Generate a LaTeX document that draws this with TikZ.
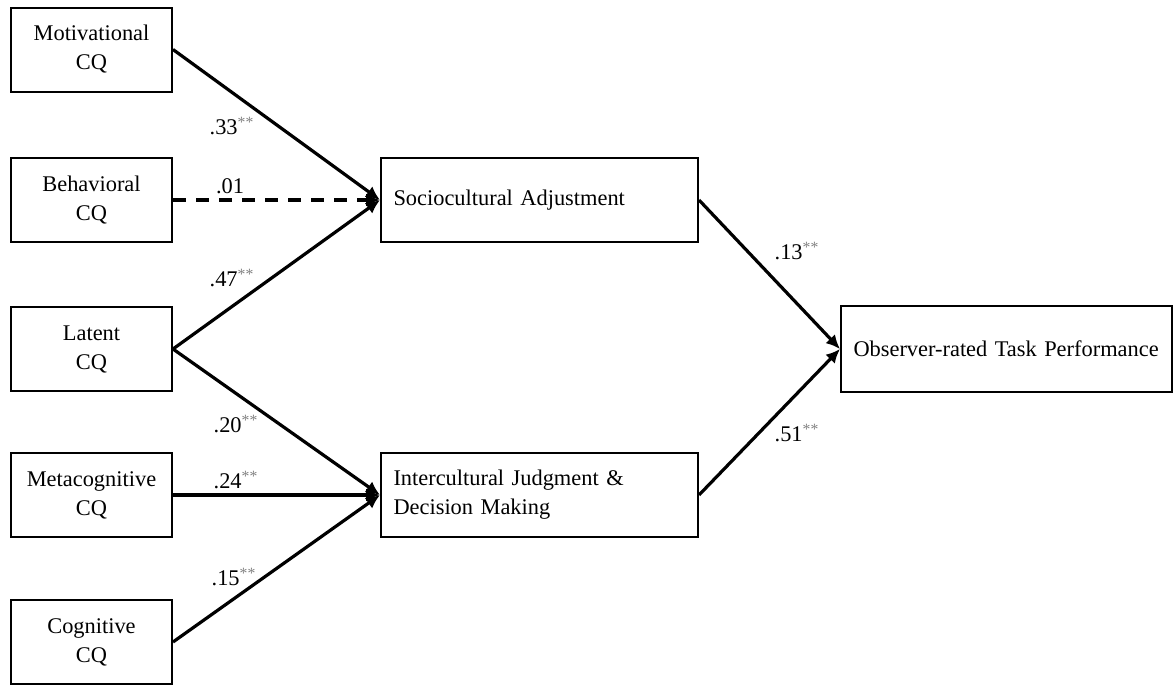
\documentclass[tikz,border=0pt]{standalone}
\usepackage{fontspec}
\setmainfont{Liberation Serif}
\usetikzlibrary{arrows.meta}
\newcommand{\sig}[1]{#1\textsuperscript{\textcolor{gray}{**}}}

\begin{document}
\begin{tikzpicture}[x=0.5pt,y=-0.5pt,
		font=\fontsize{11.2}{14.5}\selectfont,
		cqbox/.style={draw,line width=1pt,minimum width=80.5pt,minimum height=42pt,align=center,inner sep=0pt},
		medbox/.style={draw,line width=1pt,minimum width=158.5pt,minimum height=42pt,text width=146pt,align=left,inner sep=6pt},
		outbox/.style={draw,line width=1pt,minimum width=165.5pt,minimum height=43pt,text width=153pt,align=left,inner sep=6pt},
		path/.style={line width=1.6pt,-{Latex[length=7pt,width=6.5pt]}},
		coef/.style={inner sep=0pt}]
		\useasboundingbox (0,0) rectangle (1175,685);
		% predictors
		\node[cqbox] (mot) at (91.5,49.5) {Motivational\\CQ};
		\node[cqbox] (beh) at (91.5,200) {Behavioral\\CQ};
		\node[cqbox] (lat) at (91.5,349) {Latent\\CQ};
		\node[cqbox] (meta) at (91.5,495) {Metacognitive\\CQ};
		\node[cqbox] (cog) at (91.5,642) {Cognitive\\CQ};
		% mediators and outcome
		\node[medbox] (soc) at (539.5,200) {Sociocultural Adjustment};
		\node[medbox] (icj) at (539.5,495) {Intercultural Judgment \&\\Decision Making};
		\node[outbox] (otp) at (1006.5,349) {Observer-rated Task Performance};
		% paths
		\draw[path] (mot.east) -- (soc.west);
		\draw[path,dash pattern=on 6.5pt off 5pt] (beh.east) -- (soc.west);
		\draw[path] (lat.east) -- (soc.west);
		\draw[path] (lat.east) -- (icj.west);
		\draw[path] (meta.east) -- (icj.west);
		\draw[path] (cog.east) -- (icj.west);
		\draw[path] (soc.east) -- (otp.west);
		\draw[path] (icj.east) -- (otp.west);
		% coefficients
		\node[coef] (c33) at (232,126) {\sig{.33}};
		\node[coef] (c01) at (230,186) {.01};
		\node[coef] (c47) at (232,278) {\sig{.47}};
		\node[coef] (c20) at (236,424) {\sig{.20}};
		\node[coef] (c24) at (236,480) {\sig{.24}};
		\node[coef] (c15) at (234,577) {\sig{.15}};
		\node[coef] (c13) at (797,251) {\sig{.13}};
		\node[coef] (c51) at (797,433) {\sig{.51}};
	\end{tikzpicture}
\end{document}
